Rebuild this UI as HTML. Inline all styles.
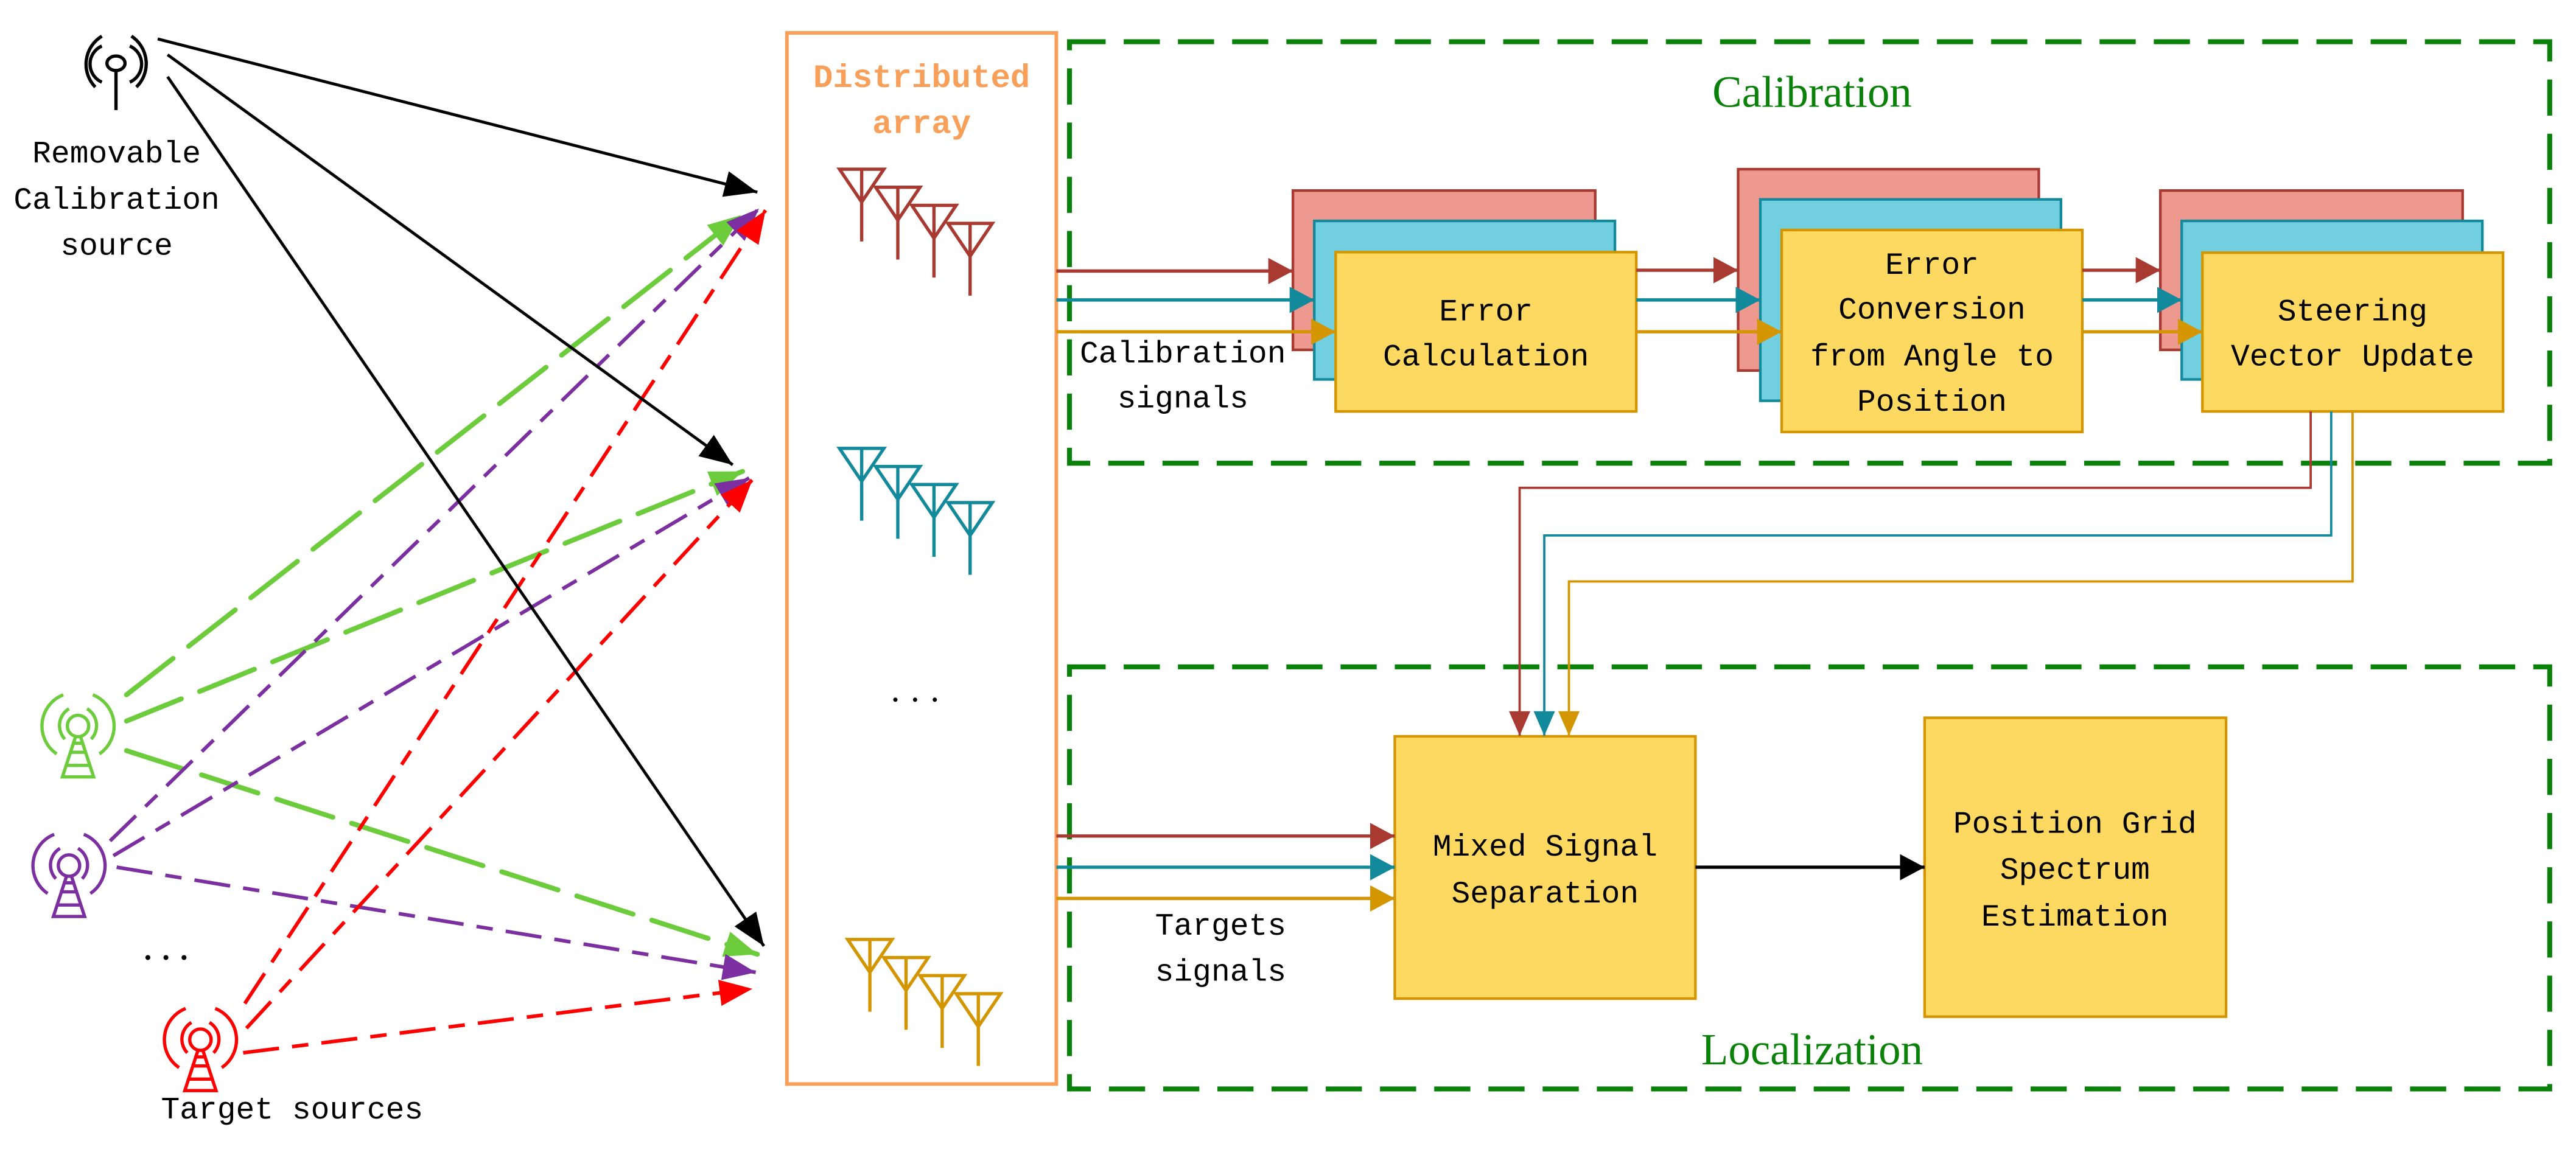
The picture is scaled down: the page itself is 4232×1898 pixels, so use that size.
<!DOCTYPE html>
<html><head><meta charset="utf-8"><style>
html,body{margin:0;padding:0;background:#fff;}
svg{display:block;}
text{font-family:"Liberation Mono",monospace;font-size:19px;fill:#000;}
.t{font-family:"Liberation Serif",serif;font-size:27px;fill:#0a820a;}
</style></head><body>
<svg width="4232" height="1898" viewBox="0 0 1568 703.2" xmlns="http://www.w3.org/2000/svg">
<defs>
<marker id="mk" markerUnits="userSpaceOnUse" markerWidth="21" markerHeight="16" refX="20" refY="8" orient="auto"><path d="M0,0L20,8L0,16z" fill="#000"/></marker>
<marker id="mg" markerUnits="userSpaceOnUse" markerWidth="21" markerHeight="16" refX="20" refY="8" orient="auto"><path d="M0,0L20,8L0,16z" fill="#6ccc3c"/></marker>
<marker id="mp" markerUnits="userSpaceOnUse" markerWidth="21" markerHeight="16" refX="20" refY="8" orient="auto"><path d="M0,0L20,8L0,16z" fill="#7b2fa0"/></marker>
<marker id="mr" markerUnits="userSpaceOnUse" markerWidth="21" markerHeight="16" refX="20" refY="8" orient="auto"><path d="M0,0L20,8L0,16z" fill="#ff0000"/></marker>
<marker id="aB" markerUnits="userSpaceOnUse" markerWidth="16" markerHeight="16" refX="15" refY="8" orient="auto"><path d="M0,0L15,8L0,16z" fill="#a83a32"/></marker>
<marker id="aT" markerUnits="userSpaceOnUse" markerWidth="16" markerHeight="16" refX="15" refY="8" orient="auto"><path d="M0,0L15,8L0,16z" fill="#13899c"/></marker>
<marker id="aG" markerUnits="userSpaceOnUse" markerWidth="16" markerHeight="16" refX="15" refY="8" orient="auto"><path d="M0,0L15,8L0,16z" fill="#d39600"/></marker>
<marker id="dB" markerUnits="userSpaceOnUse" markerWidth="16" markerHeight="13" refX="15" refY="6.5" orient="auto"><path d="M0,0L15,6.5L0,13z" fill="#a83a32"/></marker>
<marker id="dT" markerUnits="userSpaceOnUse" markerWidth="16" markerHeight="13" refX="15" refY="6.5" orient="auto"><path d="M0,0L15,6.5L0,13z" fill="#13899c"/></marker>
<marker id="dG" markerUnits="userSpaceOnUse" markerWidth="16" markerHeight="13" refX="15" refY="6.5" orient="auto"><path d="M0,0L15,6.5L0,13z" fill="#d39600"/></marker>
<marker id="aK" markerUnits="userSpaceOnUse" markerWidth="16" markerHeight="16" refX="15" refY="8" orient="auto"><path d="M0,0L15,8L0,16z" fill="#000"/></marker>
<g id="tower" fill="none" stroke-width="2">
<circle cx="0" cy="0" r="6.5"/>
<path d="M-1.5,6.5 L-9.5,31 L9.5,31 L1.5,6.5 M-5.5,16 H5.5 M-7.5,24 H7.5 M-3.7,10.5 H3.7"/>
<path d="M-8,8 A12,12 0 0 1 -5.5,-10.5 M8,8 A12,12 0 0 0 5.5,-10.5"/>
<path d="M-13,17 A20.5,20.5 0 0 1 -9,-19 M13,17 A20.5,20.5 0 0 0 9,-19"/>
</g>
<g id="ant" fill="none" stroke-width="2">
<path d="M0,0 H27 L13.5,20 Z M13.5,0 V44"/>
</g>
</defs>

<g stroke="#000" stroke-width="2" fill="none">
<ellipse cx="70.6" cy="38.5" rx="5.5" ry="4.4"/>
<path d="M70.6,43 V67"/>
<path d="M62,50 A12,12 0 0 1 62,28 M79,50 A12,12 0 0 0 79,28"/>
<path d="M58,53 A20,20 0 0 1 62,22 M83,53 A20,20 0 0 0 80,22"/>
</g>
<text x="71" y="99" text-anchor="middle">Removable</text>
<text x="71" y="127" text-anchor="middle">Calibration</text>
<text x="71" y="155" text-anchor="middle">source</text>

<g fill="none">
<g stroke="#6ccc3c" stroke-width="3" stroke-dasharray="36,12" stroke-linecap="round">
<line x1="77" y1="423" x2="451" y2="131" marker-end="url(#mg)"/>
<line x1="77" y1="439" x2="452" y2="287" marker-end="url(#mg)"/>
<line x1="77" y1="457" x2="461" y2="581" marker-end="url(#mg)"/>
</g>
<g stroke="#7b2fa0" stroke-width="2.2" stroke-dasharray="22,8,10,8">
<line x1="67" y1="512" x2="462" y2="127" marker-end="url(#mp)"/>
<line x1="69" y1="521" x2="456" y2="291" marker-end="url(#mp)"/>
<line x1="71" y1="528" x2="460" y2="592" marker-end="url(#mp)"/>
</g>
<g stroke="#ff0000" stroke-width="2.2" stroke-dasharray="22,8,10,8">
<line x1="149" y1="611" x2="466" y2="128" marker-end="url(#mr)"/>
<line x1="150" y1="626" x2="458" y2="292" marker-end="url(#mr)"/>
<line x1="148" y1="641" x2="458" y2="602" marker-end="url(#mr)"/>
</g>
<g stroke="#000" stroke-width="1.8">
<line x1="96" y1="23.7" x2="461" y2="117" marker-end="url(#mk)"/>
<line x1="102" y1="33.3" x2="446" y2="283" marker-end="url(#mk)"/>
<line x1="102" y1="46.7" x2="465" y2="576" marker-end="url(#mk)"/>
</g>
</g>

<use href="#tower" x="47.5" y="442" stroke="#6ccc3c"/>
<use href="#tower" x="42" y="527" stroke="#7b2fa0"/>
<use href="#tower" x="122" y="633" stroke="#ff0000"/>
<g fill="#000"><circle cx="90" cy="583" r="1.5"/><circle cx="101" cy="583" r="1.5"/><circle cx="112" cy="583" r="1.5"/></g>
<text x="98" y="681">Target sources</text>

<rect x="479" y="20" width="164" height="640" fill="none" stroke="#f8a05a" stroke-width="2.2"/>
<text x="561" y="53" text-anchor="middle" style="fill:#f8a05a;font-size:20px;font-weight:bold">Distributed</text>
<text x="561" y="81" text-anchor="middle" style="fill:#f8a05a;font-size:20px;font-weight:bold">array</text>
<g stroke="#a83a32"><use href="#ant" x="511" y="103"/><use href="#ant" x="533" y="114"/><use href="#ant" x="555" y="125"/><use href="#ant" x="577" y="136"/></g>
<g stroke="#13899c"><use href="#ant" x="511" y="273"/><use href="#ant" x="533" y="284"/><use href="#ant" x="555" y="295"/><use href="#ant" x="577" y="306"/></g>
<g stroke="#d39600"><use href="#ant" x="516" y="572"/><use href="#ant" x="538" y="583"/><use href="#ant" x="560" y="594"/><use href="#ant" x="582" y="605"/></g>
<g fill="#000"><circle cx="545" cy="426" r="1.3"/><circle cx="557" cy="426" r="1.3"/><circle cx="569" cy="426" r="1.3"/></g>

<g fill="none" stroke="#0a820a" stroke-width="3" stroke-dasharray="22,11">
<rect x="651" y="25.4" width="901" height="256.6"/>
<rect x="651" y="406" width="901" height="257"/>
</g>
<text class="t" x="1103" y="65" text-anchor="middle">Calibration</text>
<text class="t" x="1103" y="648" text-anchor="middle">Localization</text>

<g stroke-width="1.6">
<rect x="787" y="116" width="184" height="97" fill="#ed9990" stroke="#a83a32"/>
<rect x="800" y="134.5" width="183" height="96.5" fill="#72cfdf" stroke="#13899c"/>
<rect x="813" y="153.5" width="183" height="97" fill="#fdd962" stroke="#d39600"/>
<rect x="1058" y="103" width="183" height="122.6" fill="#ed9990" stroke="#a83a32"/>
<rect x="1071.5" y="121.4" width="183" height="122.6" fill="#72cfdf" stroke="#13899c"/>
<rect x="1084.5" y="140" width="183" height="123" fill="#fdd962" stroke="#d39600"/>
<rect x="1315" y="116" width="184" height="97" fill="#ed9990" stroke="#a83a32"/>
<rect x="1328" y="134.5" width="183" height="96.5" fill="#72cfdf" stroke="#13899c"/>
<rect x="1340.6" y="153.8" width="183" height="96.7" fill="#fdd962" stroke="#d39600"/>
<rect x="849" y="448.3" width="183" height="159.7" fill="#fdd962" stroke="#d39600"/>
<rect x="1171.5" y="437" width="183.5" height="182" fill="#fdd962" stroke="#d39600"/>
</g>
<text x="904.5" y="195" text-anchor="middle">Error</text>
<text x="904.5" y="222.5" text-anchor="middle">Calculation</text>
<text x="1176" y="166.7" text-anchor="middle">Error</text>
<text x="1176" y="194" text-anchor="middle">Conversion</text>
<text x="1176" y="222.5" text-anchor="middle">from Angle to</text>
<text x="1176" y="250" text-anchor="middle">Position</text>
<text x="1432" y="195" text-anchor="middle">Steering</text>
<text x="1432" y="222.5" text-anchor="middle">Vector Update</text>
<text x="720" y="220.7" text-anchor="middle">Calibration</text>
<text x="720" y="248" text-anchor="middle">signals</text>
<text x="940.5" y="521" text-anchor="middle">Mixed Signal</text>
<text x="940.5" y="549.5" text-anchor="middle">Separation</text>
<text x="1263" y="507" text-anchor="middle">Position Grid</text>
<text x="1263" y="535" text-anchor="middle">Spectrum</text>
<text x="1263" y="563.5" text-anchor="middle">Estimation</text>
<text x="743" y="569" text-anchor="middle">Targets</text>
<text x="743" y="597" text-anchor="middle">signals</text>

<g fill="none" stroke-width="2">
<line x1="643" y1="165" x2="787" y2="165" stroke="#a83a32" marker-end="url(#aB)"/>
<line x1="643" y1="182.6" x2="800" y2="182.6" stroke="#13899c" marker-end="url(#aT)"/>
<line x1="643" y1="202" x2="813" y2="202" stroke="#d39600" marker-end="url(#aG)"/>
<line x1="996" y1="164.5" x2="1058" y2="164.5" stroke="#a83a32" marker-end="url(#aB)"/>
<line x1="996" y1="182.6" x2="1071.5" y2="182.6" stroke="#13899c" marker-end="url(#aT)"/>
<line x1="996" y1="202" x2="1084.5" y2="202" stroke="#d39600" marker-end="url(#aG)"/>
<line x1="1267.5" y1="164.5" x2="1315" y2="164.5" stroke="#a83a32" marker-end="url(#aB)"/>
<line x1="1267.5" y1="182.6" x2="1328" y2="182.6" stroke="#13899c" marker-end="url(#aT)"/>
<line x1="1267.5" y1="202" x2="1340.6" y2="202" stroke="#d39600" marker-end="url(#aG)"/>
<line x1="643" y1="509" x2="849" y2="509" stroke="#a83a32" marker-end="url(#aB)"/>
<line x1="643" y1="528" x2="849" y2="528" stroke="#13899c" marker-end="url(#aT)"/>
<line x1="643" y1="547" x2="849" y2="547" stroke="#d39600" marker-end="url(#aG)"/>
<line x1="1032" y1="528" x2="1171.5" y2="528" stroke="#000" marker-end="url(#aK)"/>
</g>
<g fill="none" stroke-width="1.4">
<polyline points="1406.5,250.5 1406.5,297 925,297 925,448" stroke="#a83a32" marker-end="url(#dB)"/>
<polyline points="1419,250.5 1419,326 940,326 940,448" stroke="#13899c" marker-end="url(#dT)"/>
<polyline points="1432,250.5 1432,354 955,354 955,448" stroke="#d39600" marker-end="url(#dG)"/>
</g>
</svg>
</body></html>
